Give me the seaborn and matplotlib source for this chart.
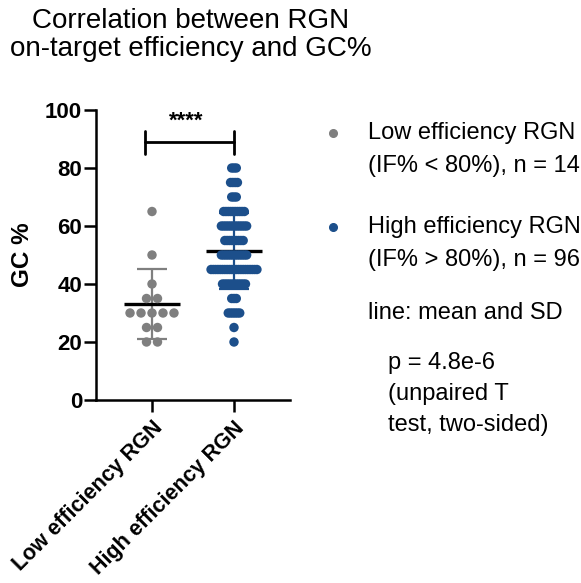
import numpy as np
import pandas as pd
import matplotlib
matplotlib.use("Agg")
import matplotlib.pyplot as plt
from matplotlib.lines import Line2D
import seaborn as sns

# ---- data ----
groups = ["Low efficiency RGN", "High efficiency RGN"]
low_gc = [65, 50, 40, 35, 35, 30, 30, 30, 30, 30, 25, 25, 20, 20]
high_levels = [80, 75, 70, 65, 60, 55, 50, 45, 40, 35, 30, 25, 20]
high_counts = [3, 4, 3, 10, 12, 9, 12, 21, 11, 3, 6, 1, 1]
colors = ["#7f7f7f", "#1c4f8b"]
legend_labels = [["Low efficiency RGN", "(IF% < 80%), n = 14"],
                 ["High efficiency RGN", "(IF% > 80%), n = 96"]]
note_text = "line: mean and SD"
p_text = ["p = 4.8e-6", "(unpaired T", "test, two-sided)"]
sig_text = "****"
title = "Correlation between RGN\non-target efficiency and GC%"
ylabel = "GC %"
yticks = [0, 20, 40, 60, 80, 100]

high_gc = list(np.repeat(high_levels, high_counts))

sns.set_theme(style="ticks")
plt.rcParams["font.family"] = ["Liberation Sans", "DejaVu Sans"]
for k in ["text.color", "axes.labelcolor", "xtick.color", "ytick.color",
          "axes.edgecolor"]:
    plt.rcParams[k] = "black"

W, H = 581, 583
fig = plt.figure(figsize=(W / 100, H / 100), dpi=100)
ax = fig.add_axes([96 / W, 1 - 400 / H, 194 / W, 290 / H])

# Prism-like scatter layout: points of equal value spread in a row
spacing = [0.134, 0.028]
rows = []
for gi, vals in enumerate([low_gc, high_gc]):
    vals = np.asarray(vals)
    for v in np.unique(vals):
        n = int((vals == v).sum())
        offs = (np.arange(n) - (n - 1) / 2) * spacing[gi]
        for o in offs:
            rows.append({"x": gi + o, "gc": v, "group": groups[gi]})
df = pd.DataFrame(rows)

# mean and SD
for gi, vals in enumerate([low_gc, high_gc]):
    m = np.mean(vals)
    sd = np.std(vals, ddof=1)
    ax.errorbar([gi], [m], yerr=[sd], fmt="none", ecolor=colors[gi],
                elinewidth=1.6, capsize=10.5, capthick=1.6, zorder=1)

sns.scatterplot(data=df, x="x", y="gc", hue="group", palette=colors,
                hue_order=groups, s=46, edgecolor="none", legend=False,
                ax=ax, zorder=3)

for gi, vals in enumerate([low_gc, high_gc]):
    m = np.mean(vals)
    ax.hlines(m, gi - 0.34, gi + 0.34, color="black", lw=2.4, zorder=2)

# significance bracket
ax.plot([-0.09, 1.0], [88.9, 88.9], color="black", lw=2.0, clip_on=False)
for xe in [-0.09, 1.0]:
    ax.plot([xe, xe], [85.0, 92.8], color="black", lw=2.0, clip_on=False)
ax.text(0.42, 92.5, sig_text, ha="center", va="bottom", fontsize=16,
        fontweight="bold")

ax.set_xlim(-0.683, 1.683)
ax.set_ylim(0, 100)
ax.set_xticks([0, 1])
ax.set_xticklabels(groups, rotation=45, ha="right", rotation_mode="anchor",
                   fontsize=15.5, fontweight="bold")
ax.set_yticks(yticks)
ax.set_yticklabels([str(t) for t in yticks], fontsize=16, fontweight="bold")
ax.set_xlabel("")
ax.set_ylabel(ylabel, fontsize=17.5, fontweight="bold", labelpad=8)
for s in ["top", "right"]:
    ax.spines[s].set_visible(False)
for s in ["left", "bottom"]:
    ax.spines[s].set_linewidth(1.8)
    ax.spines[s].set_color("black")
ax.tick_params(axis="both", length=8.5, width=1.8, color="black",
               labelcolor="black", pad=1.5)
ax.tick_params(axis="x", pad=4)

fig.text(191 / W, 1 - 35 / H, title, ha="center", va="center", fontsize=20,
         linespacing=1.15, color="black")

# legend-like notes
def fy(py):
    return 1 - py / H

for gi, (l1, l2) in enumerate(legend_labels):
    yc = [133, 227][gi]
    fig.add_artist(Line2D([333 / W], [fy(yc)], marker="o", markersize=5.5,
                          color=colors[gi], transform=fig.transFigure))
    fig.text(368 / W, fy(yc), l1, ha="left", va="center", fontsize=17)
    fig.text(368 / W, fy(yc + 33), l2, ha="left", va="center", fontsize=17)

fig.text(368 / W, fy(313), note_text, ha="left", va="center", fontsize=17)
for i, t in enumerate(p_text):
    fig.text(388 / W, fy(363 + 31 * i), t, ha="left", va="center", fontsize=17)

fig.savefig("out.png", dpi=100)
